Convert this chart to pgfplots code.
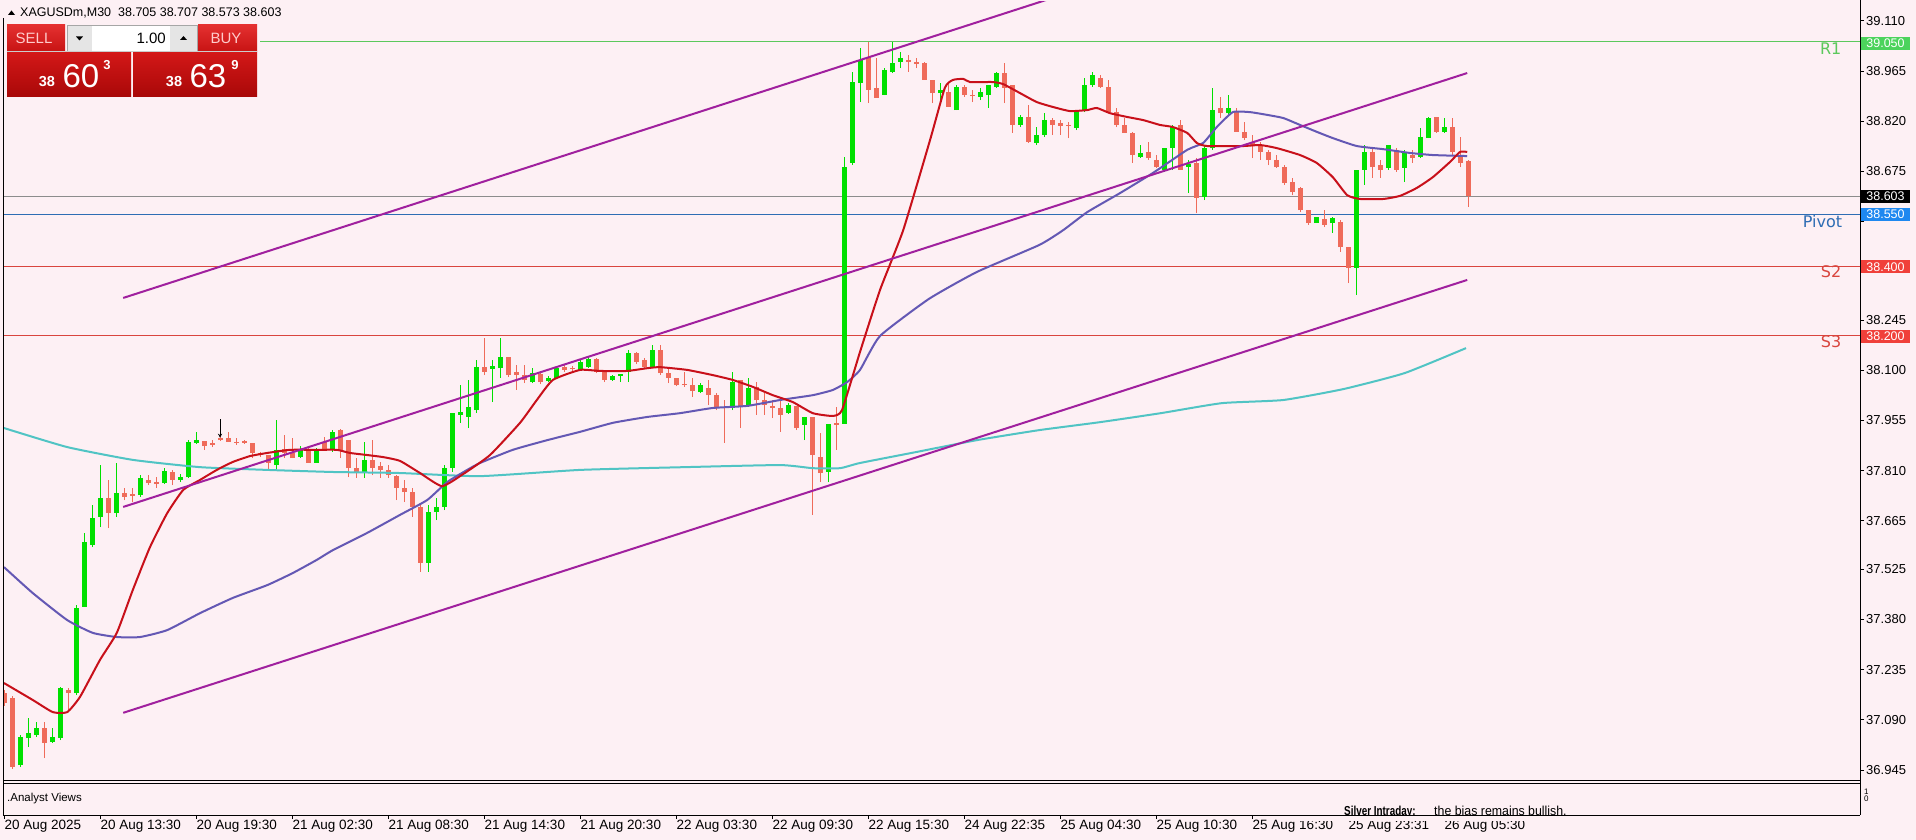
\documentclass[border=0pt]{standalone}
\usepackage{pgfplots}
\pgfplotsset{compat=1.18}
\usepackage{pgfplotstable}
\usepackage{fontspec}
\setmainfont{Liberation Sans}
\newfontfamily\dejavu{DejaVu Sans}
\usetikzlibrary{arrows.meta}
\definecolor{bg}{HTML}{FDF0F4}
\definecolor{cgreen}{HTML}{00E000}
\definecolor{cred}{HTML}{EF6B5A}
\definecolor{ma1}{HTML}{C8101A}
\definecolor{ma2}{HTML}{6458B4}
\definecolor{ma3}{HTML}{50C4C4}
\definecolor{chan}{HTML}{A0209E}
\definecolor{rgreen}{HTML}{5CC85C}
\definecolor{pivblue}{HTML}{2E6DB4}
\definecolor{sred}{HTML}{D9453E}
\definecolor{boxgreen}{HTML}{4CD35C}
\definecolor{boxblue}{HTML}{1E88F0}
\definecolor{boxred}{HTML}{F0403A}
\definecolor{btntop}{HTML}{E43030}
\definecolor{btnbot}{HTML}{C81414}
\definecolor{pxtop}{HTML}{D41818}
\definecolor{pxbot}{HTML}{A80808}

\pgfplotstableread{
i o h l c
2 36.959 37.046 36.953 37.040
3 37.037 37.095 37.011 37.052
4 37.046 37.083 37.040 37.066
6 37.026 37.066 37.023 37.040
7 37.037 37.185 37.031 37.182
9 37.167 37.422 37.161 37.413
10 37.416 37.630 37.416 37.604
11 37.595 37.711 37.589 37.673
12 37.676 37.826 37.647 37.731
14 37.687 37.832 37.676 37.745
17 37.739 37.797 37.734 37.789
20 37.774 37.817 37.771 37.809
22 37.783 37.800 37.777 37.791
23 37.791 37.898 37.789 37.893
24 37.890 37.922 37.887 37.898
34 37.826 37.956 37.812 37.870
37 37.849 37.881 37.846 37.870
39 37.832 37.875 37.832 37.870
41 37.870 37.927 37.864 37.922
45 37.806 37.893 37.789 37.841
53 37.543 37.711 37.517 37.690
54 37.690 37.731 37.667 37.705
55 37.705 37.826 37.696 37.817
56 37.817 37.976 37.806 37.976
57 37.971 38.057 37.948 37.979
58 37.965 38.072 37.933 37.994
59 37.985 38.130 37.976 38.109
61 38.104 38.130 38.008 38.112
62 38.106 38.193 38.078 38.138
66 38.066 38.106 38.063 38.092
68 38.069 38.083 38.066 38.078
69 38.078 38.112 38.075 38.106
72 38.101 38.130 38.098 38.124
73 38.109 38.138 38.106 38.132
76 38.072 38.086 38.069 38.083
77 38.083 38.089 38.066 38.089
78 38.095 38.158 38.066 38.150
81 38.109 38.173 38.106 38.158
87 38.037 38.063 38.034 38.057
91 37.991 38.095 37.985 38.066
93 37.999 38.078 37.994 38.049
98 37.976 38.005 37.974 37.999
100 37.942 37.965 37.898 37.965
103 37.806 37.945 37.777 37.945
105 37.945 38.716 37.945 38.687
106 38.699 38.962 38.693 38.933
107 38.930 39.031 38.875 38.997
110 38.895 38.973 38.895 38.968
111 38.962 39.049 38.959 38.988
112 38.991 39.020 38.973 39.002
117 38.901 38.930 38.875 38.910
119 38.852 38.924 38.852 38.919
122 38.890 38.916 38.881 38.904
123 38.895 38.924 38.858 38.924
124 38.919 38.962 38.916 38.959
127 38.809 38.838 38.803 38.832
129 38.757 38.803 38.751 38.780
130 38.780 38.843 38.774 38.823
134 38.800 38.852 38.794 38.846
135 38.852 38.945 38.846 38.924
136 38.924 38.962 38.919 38.953
142 38.716 38.751 38.713 38.728
145 38.679 38.742 38.673 38.742
146 38.742 38.809 38.679 38.803
148 38.687 38.708 38.612 38.696
150 38.601 38.751 38.592 38.742
151 38.742 38.916 38.737 38.852
153 38.843 38.895 38.838 38.858
164 38.525 38.543 38.525 38.543
166 38.525 38.543 38.497 38.540
169 38.396 38.679 38.317 38.679
170 38.679 38.751 38.636 38.731
173 38.685 38.751 38.679 38.751
175 38.685 38.737 38.644 38.731
177 38.716 38.800 38.713 38.774
178 38.771 38.832 38.771 38.829
180 38.789 38.829 38.786 38.803
}\greentab

\pgfplotstableread{
i o h l c
0 37.167 37.176 37.130 37.138
1 37.153 37.159 36.948 36.953
5 37.066 37.083 36.979 37.023
8 37.176 37.182 37.112 37.167
13 37.731 37.783 37.644 37.687
15 37.745 37.760 37.725 37.734
16 37.742 37.760 37.719 37.737
18 37.783 37.797 37.768 37.774
19 37.777 37.791 37.760 37.771
21 37.806 37.812 37.768 37.783
25 37.896 37.896 37.870 37.881
26 37.890 37.898 37.878 37.884
27 37.904 37.922 37.896 37.898
28 37.904 37.922 37.893 37.893
29 37.893 37.904 37.884 37.890
30 37.896 37.898 37.887 37.890
31 37.890 37.890 37.846 37.861
32 37.861 37.864 37.849 37.855
33 37.855 37.855 37.812 37.832
35 37.872 37.913 37.846 37.861
36 37.861 37.904 37.846 37.846
38 37.870 37.875 37.832 37.832
40 37.893 37.907 37.870 37.870
42 37.927 37.930 37.846 37.870
43 37.898 37.898 37.791 37.817
44 37.817 37.846 37.789 37.806
46 37.841 37.898 37.797 37.817
47 37.823 37.835 37.789 37.812
48 37.812 37.826 37.789 37.797
49 37.794 37.797 37.725 37.760
50 37.760 37.783 37.719 37.748
51 37.748 37.760 37.676 37.705
52 37.705 37.711 37.517 37.543
60 38.109 38.193 38.086 38.095
63 38.138 38.138 38.080 38.086
64 38.095 38.115 38.043 38.086
65 38.086 38.115 38.063 38.072
67 38.089 38.095 38.060 38.066
70 38.109 38.115 38.095 38.101
71 38.107 38.112 38.095 38.103
74 38.132 38.135 38.092 38.095
75 38.095 38.101 38.066 38.072
79 38.150 38.153 38.118 38.124
80 38.130 38.135 38.106 38.109
82 38.158 38.173 38.086 38.092
83 38.092 38.106 38.063 38.078
84 38.078 38.078 38.054 38.057
85 38.060 38.095 38.052 38.057
86 38.057 38.078 38.023 38.040
88 38.049 38.072 37.999 38.028
89 38.028 38.034 37.985 37.991
90 37.994 38.014 37.890 37.991
92 38.072 38.072 37.933 37.994
94 38.052 38.066 37.971 38.014
95 38.014 38.034 37.971 37.999
96 37.997 38.014 37.962 37.991
97 37.991 38.014 37.922 37.971
99 37.997 37.997 37.927 37.933
101 37.965 37.965 37.682 37.855
102 37.849 37.919 37.777 37.803
104 37.948 37.994 37.870 37.942
108 39.005 39.049 38.872 38.910
109 38.916 39.002 38.887 38.887
113 38.997 39.011 38.962 38.991
114 38.991 39.002 38.973 38.985
115 38.988 38.991 38.939 38.939
116 38.939 38.939 38.872 38.901
118 38.904 38.930 38.861 38.861
120 38.919 38.924 38.890 38.895
121 38.895 38.910 38.875 38.892
125 38.959 38.988 38.872 38.916
126 38.924 38.924 38.786 38.809
128 38.832 38.867 38.757 38.760
131 38.823 38.829 38.780 38.809
132 38.814 38.823 38.780 38.806
133 38.809 38.817 38.771 38.806
137 38.945 38.953 38.916 38.919
138 38.919 38.939 38.843 38.846
139 38.846 38.858 38.803 38.809
140 38.809 38.829 38.786 38.786
141 38.786 38.789 38.699 38.722
143 38.731 38.760 38.708 38.713
144 38.708 38.722 38.685 38.687
147 38.809 38.823 38.679 38.679
149 38.699 38.713 38.554 38.598
152 38.858 38.890 38.829 38.843
154 38.846 38.858 38.789 38.789
155 38.789 38.817 38.765 38.771
156 38.760 38.780 38.713 38.751
157 38.751 38.760 38.708 38.731
158 38.731 38.737 38.693 38.708
159 38.708 38.722 38.685 38.687
160 38.687 38.693 38.636 38.641
161 38.644 38.656 38.606 38.615
162 38.627 38.630 38.557 38.563
163 38.563 38.563 38.520 38.525
165 38.537 38.563 38.514 38.520
167 38.528 38.534 38.442 38.456
168 38.456 38.456 38.352 38.396
171 38.731 38.742 38.656 38.687
172 38.693 38.708 38.656 38.679
174 38.737 38.742 38.673 38.679
176 38.722 38.737 38.699 38.713
179 38.832 38.832 38.786 38.789
181 38.803 38.829 38.722 38.731
182 38.716 38.774 38.687 38.699
183 38.705 38.707 38.573 38.603
}\redtab

\begin{document}
\begin{tikzpicture}
\path[use as bounding box] (0pt,0pt) rectangle (1916pt,-840pt);
\fill[bg] (0pt,0pt) rectangle (1916pt,-840pt);

\begin{axis}[
  at={(3pt,-780pt)}, anchor=south west,
  width=1857pt, height=778pt, scale only axis,
  xmin=-0.125, xmax=232, ymin=36.9158, ymax=39.1643,
  axis line style={draw=none},
  xtick=\empty,
  ytick={36.945,37.090,37.235,37.380,37.525,37.665,37.810,37.955,38.100,38.245,38.675,38.820,38.965,39.110},
  extra y ticks={38.385,38.530}, extra y tick labels={},
  ytick pos=right, yticklabel pos=right,
  ytick align=outside, major tick length=4pt,
  tick style={black, line width=0.8pt},
  yticklabel style={font=\fontsize{13}{13}\selectfont, anchor=west, inner xsep=2pt,
    /pgf/number format/.cd, fixed, fixed zerofill, precision=3, assume math mode=true},
  clip=true,
]
% horizontal levels
\addplot[rgreen, line width=1.6pt] coordinates {(32,39.05)(232,39.05)};
\addplot[black!45, line width=0.8pt] coordinates {(-0.125,38.603)(232,38.603)};
\addplot[pivblue, line width=1.8pt] coordinates {(-0.125,38.55)(232,38.55)};
\addplot[sred, line width=1.5pt] coordinates {(-0.125,38.40)(232,38.40)};
\addplot[sred, line width=1.5pt] coordinates {(-0.125,38.20)(232,38.20)};

% candles: wicks and bodies
\addplot[draw=none, mark=none, forget plot, error bars/.cd, y dir=plus, y explicit, error mark=none,
  error bar style={draw=cgreen, solid, line width=1pt}]
  table[x=i, y=l, y error expr=\thisrow{h}-\thisrow{l}] {\greentab};
\addplot[draw=none, mark=none, forget plot, error bars/.cd, y dir=plus, y explicit, error mark=none,
  error bar style={draw=cgreen, solid, line width=5pt}]
  table[x=i, y=o, y error expr=\thisrow{c}-\thisrow{o}] {\greentab};
\addplot[draw=none, mark=none, forget plot, error bars/.cd, y dir=plus, y explicit, error mark=none,
  error bar style={draw=cred, solid, line width=1pt}]
  table[x=i, y=l, y error expr=\thisrow{h}-\thisrow{l}] {\redtab};
\addplot[draw=none, mark=none, forget plot, error bars/.cd, y dir=plus, y explicit, error mark=none,
  error bar style={draw=cred, solid, line width=5pt}]
  table[x=i, y=c, y error expr=\thisrow{o}-\thisrow{c}] {\redtab};

% arrow marker
\addplot[black, line width=0.8pt, -{Stealth[length=4pt,width=4pt]}] coordinates {(27,37.958)(27,37.905)};

% moving averages
\addplot[ma3, line width=2pt, smooth, tension=0.3] coordinates {
(0,37.933)(7.9,37.878)(16.1,37.841)(24.5,37.820)(32.9,37.812)(41.1,37.806)(49.5,37.803)(59.5,37.794)(72,37.812)(85.1,37.820)(97,37.826)(101.1,37.817)(104.5,37.817)(107,37.832)(114.1,37.864)(121.6,37.898)(129.4,37.927)(137,37.950)(144.6,37.976)(152.25,38.005)(159.9,38.014)(167.5,38.046)(175.1,38.092)(182.75,38.164)};
\addplot[ma2, line width=2pt, smooth, tension=0.3] coordinates {
(0,37.531)(3.6,37.456)(7.9,37.378)(11.1,37.341)(14.1,37.329)(17,37.329)(20.4,37.349)(24.5,37.398)(28.6,37.442)(32.9,37.479)(36.1,37.514)(39.1,37.552)(41.1,37.580)(45.4,37.630)(49.5,37.682)(52.9,37.725)(55.4,37.777)(57.9,37.812)(59.5,37.832)(63.6,37.870)(67.9,37.898)(72,37.922)(76.1,37.948)(80.4,37.965)(84.5,37.976)(88.6,37.991)(92.9,37.997)(97,38.014)(101.1,38.028)(103.6,38.043)(105.4,38.066)(107,38.101)(109.5,38.199)(115.6,38.306)(121.6,38.384)(129.4,38.462)(132.4,38.505)(135.4,38.557)(139.5,38.612)(143.6,38.670)(147.9,38.737)(149.9,38.757)(151.6,38.803)(153.6,38.846)(155.75,38.846)(157.9,38.838)(159.9,38.829)(162,38.809)(164.1,38.789)(166.1,38.771)(169.1,38.748)(172.4,38.739)(175.75,38.728)(178.6,38.722)(182.9,38.719)};
\addplot[ma1, line width=2pt, smooth, tension=0.3] coordinates {
(0,37.196)(3.6,37.147)(6.1,37.112)(7.9,37.112)(9.5,37.156)(12,37.263)(14.1,37.341)(16.1,37.465)(18.25,37.589)(20.4,37.687)(22.4,37.754)(24.5,37.783)(26.6,37.812)(28.6,37.835)(30.75,37.852)(32.9,37.861)(35.75,37.870)(39.1,37.870)(41.6,37.870)(43.25,37.861)(45.4,37.855)(47.4,37.849)(49.5,37.838)(52,37.803)(54.75,37.765)(57.4,37.800)(60.75,37.855)(64.5,37.948)(66.6,38.014)(68.6,38.072)(72,38.101)(74.5,38.098)(77.9,38.098)(80.4,38.106)(82,38.109)(85.4,38.101)(88.6,38.086)(91.1,38.072)(93.6,38.052)(96.1,38.028)(98.6,38.008)(101.1,37.976)(103.6,37.968)(104.75,37.985)(107,38.153)(109.5,38.332)(112.4,38.505)(115.75,38.765)(117.6,38.916)(118.6,38.939)(119.9,38.942)(120.75,38.933)(123.6,38.933)(124.9,38.927)(127,38.901)(129.1,38.875)(131.1,38.861)(133.25,38.849)(135.4,38.852)(136.6,38.858)(138.25,38.843)(140.4,38.832)(142.4,38.823)(144.5,38.809)(146.1,38.803)(147.9,38.786)(149.1,38.757)(150.4,38.748)(154.9,38.748)(157,38.751)(159.1,38.742)(162,38.722)(164.1,38.699)(166.1,38.658)(167.9,38.606)(169.5,38.595)(172.4,38.595)(174.5,38.604)(176.6,38.627)(178.6,38.658)(180.75,38.702)(182,38.731)(182.9,38.731)};

% channel
\addplot[chan, line width=2pt] coordinates {(14.9,38.309)(130.25,39.170)};
\addplot[chan, line width=2pt] coordinates {(14.9,37.705)(182.9,38.959)};
\addplot[chan, line width=2pt] coordinates {(14.9,37.110)(182.9,38.361)};

% level labels
\node[anchor=east, text=rgreen, font=\dejavu\fontsize{16}{16}\selectfont] at (axis cs:230.1,39.028) {R1};
\node[anchor=east, text=pivblue, font=\dejavu\fontsize{16}{16}\selectfont] at (axis cs:230.2,38.531) {Pivot};
\node[anchor=east, text=sred, font=\dejavu\fontsize{16}{16}\selectfont] at (axis cs:230.1,38.384) {S2};
\node[anchor=east, text=sred, font=\dejavu\fontsize{16}{16}\selectfont] at (axis cs:230.1,38.184) {S3};
\end{axis}

% lower panel with date axis
\begin{axis}[
  at={(3pt,-815pt)}, anchor=south west,
  width=1857pt, height=32pt, scale only axis,
  xmin=-0.125, xmax=232, ymin=0, ymax=1,
  axis line style={draw=none},
  ytick=\empty,
  xtick={0,12,...,180},
  xticklabels={20 Aug 2025, 20 Aug 13:30, 20 Aug 19:30, 21 Aug 02:30, 21 Aug 08:30, 21 Aug 14:30, 21 Aug 20:30, 22 Aug 03:30, 22 Aug 09:30, 22 Aug 15:30, 24 Aug 22:35, 25 Aug 04:30, 25 Aug 10:30, 25 Aug 16:30, 25 Aug 23:31, 26 Aug 05:30},
  xtick pos=bottom, xtick align=outside, major tick length=4pt,
  tick style={black, line width=0.8pt},
  xticklabel style={font=\fontsize{13.5}{13.5}\selectfont, anchor=north west, inner xsep=0.5pt, inner ysep=1pt},
]
\addplot[draw=none] coordinates {(0,0)(1,1)};
\end{axis}

% frames
\draw[black, line width=1pt] (3pt,-18pt) -- (3pt,-815pt);
\draw[black, line width=1pt] (1860pt,0pt) -- (1860pt,-815pt);
\draw[black, line width=1pt] (3pt,-780.5pt) -- (1860pt,-780.5pt);
\draw[black, line width=1pt] (3pt,-783pt) -- (1860pt,-783pt);

% lower panel texts
\node[anchor=west, font=\fontsize{11.5}{11.5}\selectfont, inner sep=0pt] at (7pt,-799pt) {.Analyst Views};
\node[anchor=base west, font=\bfseries\fontsize{13}{13}\selectfont, inner sep=0pt] at (1344pt,-815pt) {\scalebox{0.76}[1]{Silver Intraday:}};
\node[anchor=base west, font=\fontsize{13}{13}\selectfont, inner sep=0pt] at (1434pt,-815pt) {\scalebox{0.95}[1]{the bias remains bullish.}};
\fill[bg] (1300pt,-816pt) rectangle (1700pt,-821pt);
\draw[black, line width=1pt] (3pt,-815pt) -- (1860pt,-815pt);
\node[anchor=west, font=\fontsize{8}{8}\selectfont, inner sep=0pt] at (1864pt,-792pt) {1};
\node[anchor=west, font=\fontsize{8}{8}\selectfont, inner sep=0pt] at (1864pt,-799pt) {0};

% right price boxes
\foreach \yy/\col/\txt in {43.5/boxgreen/39.050, 196.5/black/38.603, 214.6/boxblue/38.550, 266.8/boxred/38.400, 336/boxred/38.200}{
  \fill[\col] (1861pt,-\yy pt+6.5pt) rectangle (1910pt,-\yy pt-6.5pt);
  \node[text=white, font=\fontsize{12.5}{12.5}\selectfont, inner sep=0pt] at (1885.5pt,-\yy pt) {\txt};
}

% header
\fill[black] (8pt,-15pt) -- (15pt,-15pt) -- (11.5pt,-10.5pt) -- cycle;
\node[anchor=west, font=\fontsize{12.5}{12.5}\selectfont, inner sep=0pt] at (20pt,-13pt) {XAGUSDm,M30\ \ 38.705 38.707 38.573 38.603};

% trade panel
\shade[top color=btntop, bottom color=btnbot] (7pt,-25pt) rectangle (65pt,-51pt);
\shade[top color=btntop, bottom color=btnbot] (198pt,-25pt) rectangle (257pt,-51pt);
\fill[black!10] (67pt,-25pt) rectangle (92pt,-51pt);
\fill[black!10] (170pt,-25pt) rectangle (197pt,-51pt);
\fill[white] (92pt,-25pt) rectangle (170pt,-51pt);
\draw[black!35, line width=0.6pt] (67pt,-25pt) rectangle (197pt,-51pt);
\fill[black] (76pt,-36.5pt) -- (83pt,-36.5pt) -- (79.5pt,-40.5pt) -- cycle;
\fill[black] (180pt,-40pt) -- (187pt,-40pt) -- (183.5pt,-36pt) -- cycle;
\node[text=red!20!white, font=\fontsize{15}{15}\selectfont] at (34pt,-38.5pt) {SELL};
\node[text=red!20!white, font=\fontsize{15}{15}\selectfont] at (226pt,-38.5pt) {BUY};
\node[anchor=east, font=\fontsize{15}{15}\selectfont, inner sep=0pt] at (166pt,-38pt) {1.00};
\shade[top color=pxtop, bottom color=pxbot] (7pt,-52pt) rectangle (131pt,-97pt);
\shade[top color=pxtop, bottom color=pxbot] (133pt,-52pt) rectangle (257pt,-97pt);
\draw[white!80!black, line width=0.6pt] (7pt,-51.5pt) -- (257pt,-51.5pt);
\node[text=white, font=\bfseries\fontsize{14.5}{14.5}\selectfont] at (47pt,-82pt) {38};
\node[text=white, font=\fontsize{33}{33}\selectfont] at (81pt,-76pt) {60};
\node[text=white, font=\bfseries\fontsize{13}{13}\selectfont] at (107pt,-65pt) {3};
\node[text=white, font=\bfseries\fontsize{14.5}{14.5}\selectfont] at (174pt,-82pt) {38};
\node[text=white, font=\fontsize{33}{33}\selectfont] at (208pt,-76pt) {63};
\node[text=white, font=\bfseries\fontsize{13}{13}\selectfont] at (235pt,-65pt) {9};
\end{tikzpicture}
\end{document}
